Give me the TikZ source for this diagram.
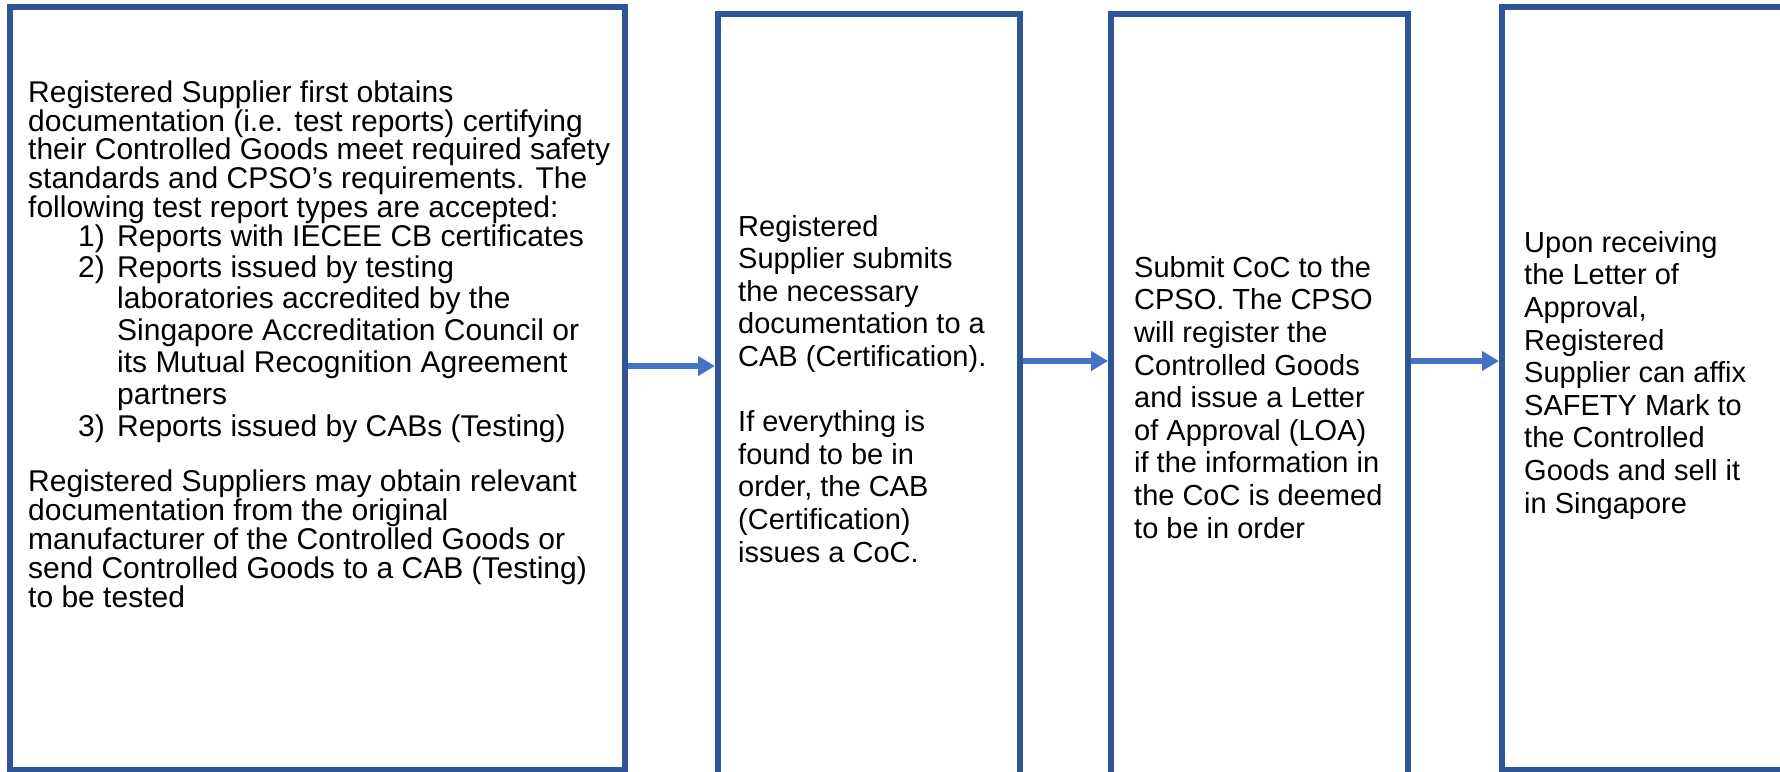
\documentclass[tikz,border=0pt]{standalone}
\usepackage{fontspec}
\setmainfont{Liberation Sans}
\usetikzlibrary{arrows.meta}
\definecolor{boxblue}{HTML}{2F5597}
\definecolor{arrblue}{HTML}{4472C4}
\tikzset{
  box/.style={draw=boxblue, line width=6pt, rectangle, inner sep=0pt},
  arr/.style={draw=arrblue, line width=6.5pt, -{Triangle[length=17pt,width=19pt]}},
  txt/.style={align=left, inner sep=0pt, anchor=base west},
}
\newcommand{\itm}[1]{\makebox[39pt][l]{#1}}
\begin{document}
\begin{tikzpicture}[x=1pt,y=-1pt]
\useasboundingbox (0,0) rectangle (1780,771);
\fill[white] (0,0) rectangle (1780,771);
% boxes
\node[box, minimum width=615pt, minimum height=763pt] (b1) at (317.5,388.5) {};
\node[box, minimum width=302pt, minimum height=766pt] (b2) at (869,397) {};
\node[box, minimum width=297pt, minimum height=766pt] (b3) at (1259.5,397) {};
\node[box, minimum width=288pt, minimum height=763pt] (b4) at (1646,388.5) {};
% texts (anchored at the baseline of the last line)
\node[txt, font=\fontsize{30}{28.8}\selectfont] (t1) at (28,607) {%
Registered Supplier first obtains\\
documentation (i.e. test reports) certifying\\
their Controlled Goods meet required safety\\
standards and CPSO’s requirements. The\\
following test report types are accepted:\\
\hspace*{50pt}\itm{1)}Reports with IECEE CB certificates\\[2pt]
\hspace*{50pt}\itm{2)}Reports issued by testing\\[3pt]
\hspace*{89pt}laboratories accredited by the\\[3pt]
\hspace*{89pt}Singapore Accreditation Council or\\[3pt]
\hspace*{89pt}its Mutual Recognition Agreement\\[3pt]
\hspace*{89pt}partners\\[3pt]
\hspace*{50pt}\itm{3)}Reports issued by CABs (Testing)\\[27pt]
Registered Suppliers may obtain relevant\\
documentation from the original\\
manufacturer of the Controlled Goods or\\
send Controlled Goods to a CAB (Testing)\\
to be tested};
\node[txt, font=\fontsize{29}{32.6}\selectfont] (t2) at (738,562) {%
Registered\\
Supplier submits\\
the necessary\\
documentation to a\\
CAB (Certification).\\[32.6pt]
If everything is\\
found to be in\\
order, the CAB\\
(Certification)\\
issues a CoC.};
\node[txt, font=\fontsize{29}{32.6}\selectfont] (t3) at (1134,538) {%
Submit CoC to the\\
CPSO. The CPSO\\
will register the\\
Controlled Goods\\
and issue a Letter\\
of Approval (LOA)\\
if the information in\\
the CoC is deemed\\
to be in order};
\node[txt, font=\fontsize{29}{32.6}\selectfont] (t4) at (1524,513) {%
Upon receiving\\
the Letter of\\
Approval,\\
Registered\\
Supplier can affix\\
SAFETY Mark to\\
the Controlled\\
Goods and sell it\\
in Singapore};
% arrows
\draw[arr] (b1.east |- 0,366) -- (b2.west |- 0,366);
\draw[arr] (b2.east |- 0,361) -- (b3.west |- 0,361);
\draw[arr] (b3.east |- 0,361) -- (b4.west |- 0,361);
\end{tikzpicture}
\end{document}
